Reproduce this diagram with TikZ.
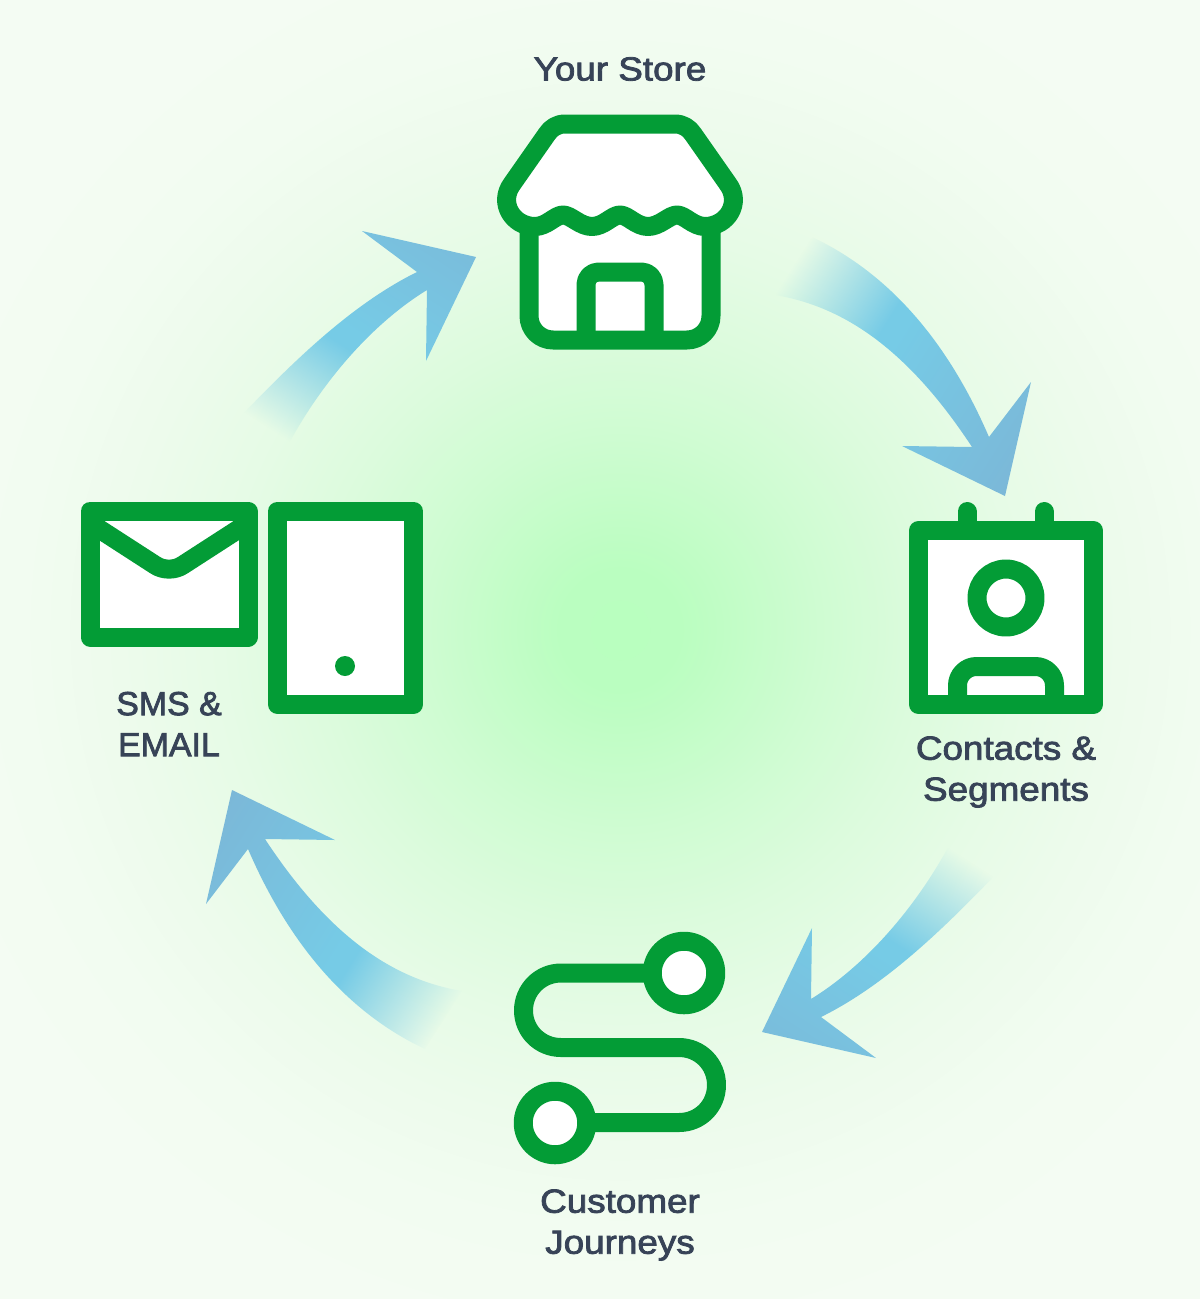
\documentclass[tikz,border=0pt]{standalone}
\usepackage{fontspec}
\usetikzlibrary{fadings}
\setmainfont[FakeBold=2.4,FakeStretch=1.105]{Liberation Sans}
\definecolor{gicon}{HTML}{039C36}
\definecolor{ink}{HTML}{374357}
\definecolor{arrA}{HTML}{76CBE6}
\definecolor{arrB}{HTML}{7BB8D8}
\definecolor{bgA}{RGB}{185,255,191}
\definecolor{bgB}{RGB}{186,254,192}
\definecolor{bgC}{RGB}{192,253,197}
\definecolor{bgD}{RGB}{207,252,210}
\definecolor{bgE}{RGB}{220,251,221}
\definecolor{bgF}{RGB}{230,251,230}
\definecolor{bgG}{RGB}{237,251,236}
\definecolor{bgH}{RGB}{242,252,241}
\definecolor{bgI}{RGB}{244,252,243}
\pgfdeclareradialshading{bgglow}{\pgfpoint{0bp}{0bp}}{%
 color(0bp)=(bgA);color(1.5bp)=(bgB);color(2.5bp)=(bgC);color(5bp)=(bgD);
 color(7.5bp)=(bgE);color(10bp)=(bgF);color(12.5bp)=(bgG);color(15bp)=(bgH);color(18bp)=(bgI);color(50bp)=(bgI)}
\pgfdeclarehorizontalshading{arrowblue}{100bp}{%
 color(0bp)=(arrA);color(47bp)=(arrA);color(69bp)=(arrB);color(100bp)=(arrB)}
\pgfdeclarehorizontalshading{arrowfadeshade}{100bp}{%
 color(0bp)=(pgftransparent!100);color(31.25bp)=(pgftransparent!100);
 color(45bp)=(pgftransparent!0);color(100bp)=(pgftransparent!0)}
\pgfdeclarefading{arrowfade}{\pgfuseshading{arrowfadeshade}}
\tikzset{
 icon/.style={draw=gicon,line width=11.4pt,line join=round},
 iconfill/.style={icon,fill=white},
 lbl/.style={text=ink,align=center,inner sep=0pt,font=\fontsize{20}{24.6}\selectfont},
 arrowglow/.style={shading=arrowblue,shading angle=#1,path fading=arrowfade,fading angle=#1}
}
\newcommand{\glowarrow}[4]{% centre x, centre y, angle, path
 \begin{scope}\clip #4;
 \shade[arrowglow=#3] (#1-200,#2-200) rectangle (#1+200,#2+200);
 \end{scope}}
\begin{document}
\begin{tikzpicture}[x=0.6pt,y=-0.6pt]
\useasboundingbox (0,0) rectangle (1200,1299);
% background
\begin{scope}
\clip (0,0) rectangle (1200,1299);
\shade[shading=bgglow] (620,630) circle [radius=1000];
\end{scope}
% arrows
\glowarrow{920.5}{345.5}{-32}{(812,237) .. controls (878,268) and (942,328) .. (989,437) -- (1031,382) -- (1005,496) -- (902,446) -- (972,447) .. controls (905,345) and (840,306) .. (775,295) -- cycle}
\glowarrow{316.5}{940.5}{148}{(425,1049) .. controls (359,1018) and (295,958) .. (248,849) -- (206,904) -- (232,790) -- (335,840) -- (265,839) .. controls (332,941) and (397,980) .. (462,991) -- cycle}
\glowarrow{348}{300}{57.3}{(240,417) .. controls (290,365) and (350,305) .. (417,272) -- (362,231) -- (476,257) -- (426,361) -- (427,290) .. controls (370,325) and (320,385) .. (287,447) -- cycle}
\glowarrow{890}{989}{237.3}{(998,872) .. controls (948,924) and (888,984) .. (821,1017) -- (876,1058) -- (762,1032) -- (812,928) -- (811,999) .. controls (868,964) and (918,904) .. (951,842) -- cycle}
% store
\draw[iconfill,rounded corners=14.4pt] (529,215) -- (529,340) -- (711,340) -- (711,215);
\draw[icon,rounded corners=7.5pt] (586,340) -- (586,272) -- (654,272) -- (654,340);
\draw[iconfill] (565,124) -- (675,124) .. controls (683,124) and (689,128) .. (693,134) -- (728,184)
 .. controls (742,203) and (727,226.5) .. (705,226.5)
 .. controls (693,226.5) and (685,215) .. (677,215)
 .. controls (669,215) and (660,226.5) .. (648,226.5)
 .. controls (636,226.5) and (628,215) .. (620,215)
 .. controls (612,215) and (604,226.5) .. (592,226.5)
 .. controls (580,226.5) and (571,215) .. (563,215)
 .. controls (555,215) and (547,226.5) .. (535,226.5)
 .. controls (513,226.5) and (498,203) .. (512,184)
 -- (547,134) .. controls (551,128) and (557,124) .. (565,124) -- cycle;
% contacts
\draw[icon,line cap=round] (967,511.5) -- (967,530);
\draw[icon,line cap=round] (1044,511.5) -- (1044,530);
\draw[iconfill] (918.5,530.5) rectangle (1093.5,704.5);
\draw[icon] (1006,598) circle [radius=29];
\draw[icon,rounded corners=11.4pt] (957.5,704.5) -- (957.5,666.5) -- (1054.5,666.5) -- (1054.5,704.5);
% journeys
\draw[icon] (651,973) -- (561,973) .. controls (540,973) and (523.5,990) .. (523.5,1010.5)
 .. controls (523.5,1031) and (540,1047.5) .. (561,1047.5) -- (679,1047.5)
 .. controls (700,1047.5) and (716.5,1064) .. (716.5,1085)
 .. controls (716.5,1106) and (700,1122.5) .. (679,1122.5) -- (590,1122.5);
\draw[iconfill] (684,973) circle [radius=31.75];
\draw[iconfill] (555,1123) circle [radius=31.75];
% sms & email
\draw[iconfill] (90,511) rectangle (248,637);
\begin{scope}
\clip (90,511) rectangle (248,637);
\draw[icon] (90,523) -- (155,565) .. controls (163,570.5) and (175,570.5) .. (183,565) -- (248,523);
\end{scope}
\draw[iconfill] (277.5,511) rectangle (413.5,704.5);
\fill[gicon] (345,666) circle [radius=10];
% labels
\node[lbl] (store) at (620,69) {Your Store};
\node[lbl] (contacts) at (1006,772) {Contacts \&\\Segments};
\node[lbl] (journeys) at (620,1225) {Customer\\Journeys};
\node[lbl,xscale=0.92,transform shape] (sms) at (169,724) {SMS \&\\EMAIL};
\end{tikzpicture}
\end{document}
